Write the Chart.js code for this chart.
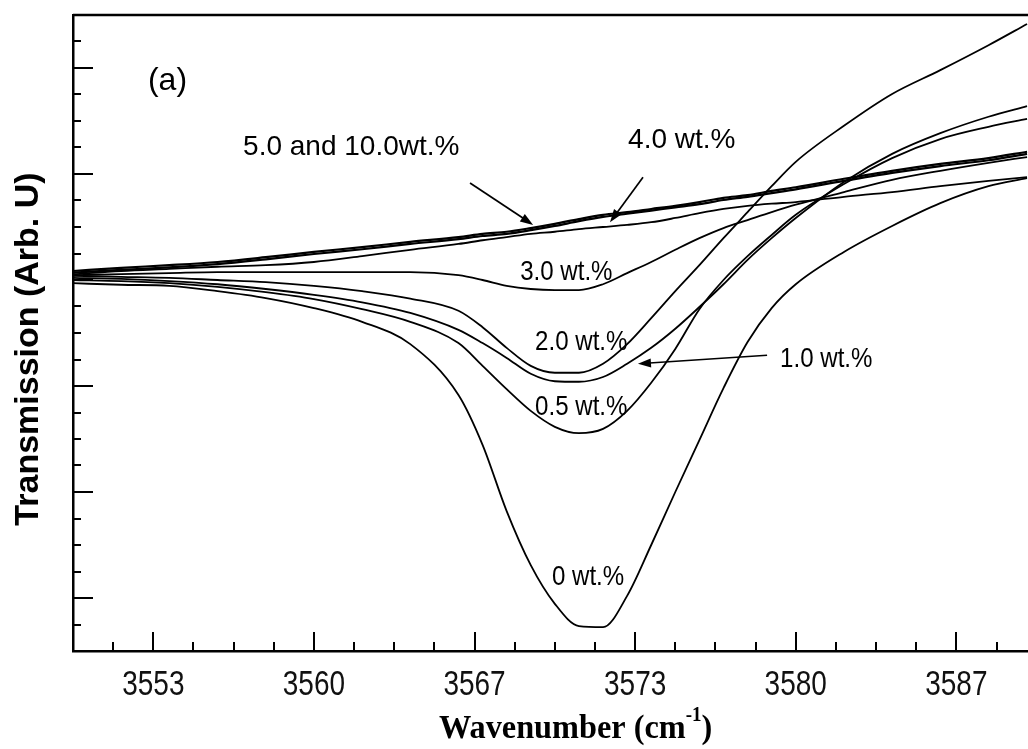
<!DOCTYPE html>
<html>
<head>
<meta charset="utf-8">
<title>FTIR transmission - OH band</title>
<script src="https://cdn.jsdelivr.net/npm/chart.js@4.4.1/dist/chart.umd.min.js"></script>
<style>
  html, body { margin: 0; padding: 0; background: #fff; }
  #ftirChart { display: block; }
</style>
</head>
<body>
<canvas id="ftirChart" width="1028" height="749"></canvas>
<script>
// Wavenumber grid (cm-1) shared by every spectrum
const wavenumbers = [3550, 3552, 3554, 3556, 3558, 3560, 3562, 3564, 3566, 3567, 3568, 3569, 3570,
    3571, 3572, 3573, 3574, 3575, 3576, 3577, 3578, 3579, 3580, 3582, 3584, 3586, 3588, 3589.6];

// Transmission traces (arb. units), one per loading
const trans0 = [0.694, 0.691, 0.689, 0.679, 0.666, 0.647, 0.621, 0.579, 0.483, 0.389, 0.264, 0.162, 0.089,
    0.047, 0.045, 0.104, 0.200, 0.300, 0.398, 0.496, 0.583, 0.647, 0.692, 0.753, 0.802, 0.845, 0.877, 0.892];
const trans05 = [0.700, 0.698, 0.694, 0.687, 0.677, 0.664, 0.645, 0.621, 0.581, 0.538, 0.494, 0.453, 0.423,
    0.411, 0.419, 0.453, 0.506, 0.570, 0.645, 0.700, 0.745, 0.785, 0.823, 0.881, 0.930, 0.966, 0.989, 1.004];
const trans1 = [0.704, 0.702, 0.698, 0.692, 0.683, 0.672, 0.658, 0.638, 0.606, 0.581, 0.553, 0.523, 0.509,
    0.508, 0.517, 0.542, 0.572, 0.608, 0.649, 0.692, 0.738, 0.779, 0.817, 0.885, 0.938, 0.977, 1.008, 1.028];
const trans2 = [0.708, 0.706, 0.704, 0.700, 0.696, 0.689, 0.679, 0.665, 0.642, 0.611, 0.572, 0.538, 0.525,
    0.525, 0.542, 0.579, 0.628, 0.679, 0.728, 0.779, 0.828, 0.877, 0.923, 0.991, 1.051, 1.096, 1.143, 1.183];
const trans3 = [0.709, 0.711, 0.713, 0.715, 0.715, 0.715, 0.715, 0.715, 0.709, 0.700, 0.689, 0.683, 0.681,
    0.681, 0.692, 0.713, 0.734, 0.757, 0.779, 0.798, 0.813, 0.828, 0.842, 0.866, 0.889, 0.906, 0.921, 0.932];
const trans4 = [0.711, 0.717, 0.721, 0.725, 0.728, 0.734, 0.745, 0.757, 0.768, 0.775, 0.781, 0.787, 0.791,
    0.796, 0.800, 0.804, 0.809, 0.817, 0.826, 0.834, 0.840, 0.844, 0.847, 0.857, 0.866, 0.877, 0.887, 0.894];
const trans5 = [0.717, 0.723, 0.728, 0.734, 0.743, 0.753, 0.762, 0.772, 0.781, 0.787, 0.791, 0.798, 0.806,
    0.815, 0.823, 0.828, 0.834, 0.840, 0.847, 0.855, 0.860, 0.868, 0.875, 0.891, 0.906, 0.919, 0.930, 0.942];
const trans10 = [0.714, 0.719, 0.724, 0.730, 0.739, 0.749, 0.758, 0.768, 0.777, 0.783, 0.787, 0.794, 0.802,
    0.811, 0.819, 0.825, 0.831, 0.837, 0.843, 0.851, 0.857, 0.864, 0.871, 0.887, 0.902, 0.915, 0.926, 0.938];

// Labelled major ticks on the wavenumber axis
const xTickLabels = ['3553', '3560', '3567', '3573', '3580', '3587'];

const X_MIN = 3550, X_MAX = 3589.64, X_STEP = 5 / 3;
const Y_MIN = 0, Y_MAX = 1.2, Y_STEP = 0.05;

const SANS = "'Liberation Sans', Arial, sans-serif";
const SERIF = "'Liberation Serif', 'Times New Roman', serif";

// Curve labels and arrows, placed in data coordinates
const curveLabels = [
    { text: '3.0 wt.%', x: 3568.56, y: 0.700 },
    { text: '2.0 wt.%', x: 3569.18, y: 0.568 },
    { text: '0.5 wt.%', x: 3569.18, y: 0.445 },
    { text: '1.0 wt.%', x: 3579.35, y: 0.536 },
    { text: '0 wt.%', x: 3569.88, y: 0.125 }
];
const bigLabels = [
    { text: '(a)', x: 3553.11, y: 1.058, size: 32 },
    { text: '5.0 and 10.0wt.%', x: 3557.06, y: 0.936, size: 28 },
    { text: '4.0 wt.%', x: 3573.04, y: 0.949, size: 28 }
];
const arrows = [
    { from: [3566.48, 0.883], to: [3569.10, 0.804] },
    { from: [3573.66, 0.894], to: [3572.29, 0.809] },
    { from: [3578.81, 0.558], to: [3573.45, 0.542] }
];

function buildTicks(min, max, step) {
    const out = [];
    for (let i = 0; min + i * step <= max + 1e-9; i++) {
        out.push(min + i * step);
    }
    return out;
}

const xTicks = buildTicks(X_MIN, X_MAX, X_STEP);
const yTicks = buildTicks(Y_MIN, Y_MAX, Y_STEP);

function xTickLabel(index) {
    return index % 4 === 2 ? xTickLabels[(index - 2) / 4] : '';
}

function makeSeries(label, values, width) {
    return {
        label: label,
        data: wavenumbers.map((w, i) => ({ x: w, y: values[i] })),
        borderColor: '#000',
        borderWidth: width || 1.8,
        pointRadius: 0,
        fill: false,
        cubicInterpolationMode: 'monotone'
    };
}

// narrow text: the tall condensed lettering is drawn squeezed sideways
function fillNarrow(ctx, text, x, y, squeeze) {
    ctx.save();
    ctx.translate(x, y);
    ctx.scale(squeeze, 1);
    ctx.fillText(text, 0, 0);
    ctx.restore();
}

// Tick marks point into the plot, long on majors; tick labels under the axis
const axisPlugin = {
    id: 'innerTicks',
    afterDraw(chart) {
        const { ctx, chartArea, scales } = chart;
        ctx.save();
        ctx.strokeStyle = '#000';
        ctx.lineWidth = 2;
        xTicks.forEach((v, i) => {
            if (i === 0) return;
            const px = Math.round(scales.x.getPixelForValue(v));
            const len = i % 4 === 2 ? 19 : 9;
            ctx.beginPath();
            ctx.moveTo(px, chartArea.bottom);
            ctx.lineTo(px, chartArea.bottom - len);
            ctx.stroke();
        });
        yTicks.forEach((v, i) => {
            if (i === 0 || i === yTicks.length - 1) return;
            const py = Math.round(scales.y.getPixelForValue(v));
            const len = i % 4 === 2 ? 20 : 8;
            ctx.beginPath();
            ctx.moveTo(chartArea.left, py);
            ctx.lineTo(chartArea.left + len, py);
            ctx.stroke();
        });
        // top frame line
        ctx.lineWidth = 2.5;
        ctx.beginPath();
        ctx.moveTo(chartArea.left, chartArea.top);
        ctx.lineTo(chartArea.right, chartArea.top);
        ctx.stroke();

        // wavenumber tick labels from the scale's own ticks
        ctx.fillStyle = '#111';
        ctx.font = '35px ' + SANS;
        ctx.textAlign = 'center';
        ctx.textBaseline = 'alphabetic';
        scales.x.ticks.forEach((t, i) => {
            const label = t.label || xTickLabel(i);
            if (!label) return;
            fillNarrow(ctx, label, scales.x.getPixelForValue(t.value), chartArea.bottom + 44, 0.8);
        });
        ctx.restore();
    }
};

function drawArrow(ctx, x1, y1, x2, y2) {
    const ang = Math.atan2(y2 - y1, x2 - x1);
    const head = 13, half = 4.5;
    ctx.beginPath();
    ctx.moveTo(x1, y1);
    ctx.lineTo(x2 - Math.cos(ang) * head * 0.6, y2 - Math.sin(ang) * head * 0.6);
    ctx.stroke();
    ctx.beginPath();
    ctx.moveTo(x2, y2);
    ctx.lineTo(x2 - Math.cos(ang) * head + Math.sin(ang) * half, y2 - Math.sin(ang) * head - Math.cos(ang) * half);
    ctx.lineTo(x2 - Math.cos(ang) * head - Math.sin(ang) * half, y2 - Math.sin(ang) * head + Math.cos(ang) * half);
    ctx.closePath();
    ctx.fill();
}

// Curve labels, arrows and axis titles
const annotationPlugin = {
    id: 'spectraAnnotations',
    afterDraw(chart) {
        const { ctx, chartArea, scales } = chart;
        const px = v => scales.x.getPixelForValue(v);
        const py = v => scales.y.getPixelForValue(v);
        ctx.save();
        ctx.fillStyle = '#000';
        ctx.strokeStyle = '#000';
        ctx.textAlign = 'left';
        ctx.textBaseline = 'alphabetic';

        ctx.font = '28px ' + SANS;
        curveLabels.forEach(l => fillNarrow(ctx, l.text, px(l.x), py(l.y), 0.86));

        bigLabels.forEach(l => {
            ctx.font = l.size + 'px ' + SANS;
            ctx.fillText(l.text, px(l.x), py(l.y));
        });

        ctx.lineWidth = 1.7;
        arrows.forEach(a => drawArrow(ctx, px(a.from[0]), py(a.from[1]), px(a.to[0]), py(a.to[1])));

        // y axis title
        ctx.save();
        ctx.translate(38, (chartArea.top + chartArea.bottom) / 2 + 16);
        ctx.rotate(-Math.PI / 2);
        ctx.textAlign = 'center';
        ctx.font = 'bold 34px ' + SANS;
        ctx.fillText('Transmission (Arb. U)', 0, 0);
        ctx.restore();

        // x axis title with superscript
        ctx.save();
        ctx.translate(439, 738);
        ctx.scale(0.95, 1);
        let x = 0;
        ctx.font = 'bold 34px ' + SERIF;
        ctx.fillText('Wavenumber (cm', x, 0);
        x += ctx.measureText('Wavenumber (cm').width;
        ctx.font = 'bold 20px ' + SERIF;
        ctx.fillText('-1', x, -17);
        x += ctx.measureText('-1').width;
        ctx.font = 'bold 34px ' + SERIF;
        ctx.fillText(')', x, 0);
        ctx.restore();

        ctx.restore();
    }
};

function initializeSpectraChart() {
    const canvas = document.getElementById('ftirChart');
    if (!canvas) {
        console.error('Chart canvas not found');
        return;
    }

    return new Chart(canvas.getContext('2d'), {
        type: 'line',
        data: {
            datasets: [
                makeSeries('0 wt.%', trans0),
                makeSeries('0.5 wt.%', trans05),
                makeSeries('1.0 wt.%', trans1),
                makeSeries('2.0 wt.%', trans2),
                makeSeries('3.0 wt.%', trans3),
                makeSeries('4.0 wt.%', trans4),
                makeSeries('5.0 wt.%', trans5, 2.2),
                makeSeries('10.0 wt.%', trans10, 2.2)
            ]
        },
        options: {
            responsive: false,
            animation: false,
            devicePixelRatio: 1,
            layout: { padding: { left: 73, top: 15, right: 0, bottom: 0 } },
            plugins: {
                legend: { display: false },
                tooltip: { enabled: false }
            },
            scales: {
                x: {
                    type: 'linear',
                    min: X_MIN,
                    max: X_MAX,
                    afterFit: scale => { scale.height = 98; },
                    afterBuildTicks: scale => {
                        scale.ticks = xTicks.map(v => ({ value: v }));
                    },
                    ticks: {
                        display: false,
                        autoSkip: false,
                        maxRotation: 0,
                        callback: function(value, index) {
                            return xTickLabel(index);
                        }
                    },
                    grid: { drawOnChartArea: false, drawTicks: false },
                    border: { display: true, color: '#000', width: 2.5 }
                },
                y: {
                    min: Y_MIN,
                    max: Y_MAX,
                    afterFit: scale => { scale.width = 0; },
                    afterBuildTicks: scale => {
                        scale.ticks = yTicks.map(v => ({ value: v }));
                    },
                    ticks: { display: false },
                    grid: { drawOnChartArea: false, drawTicks: false },
                    border: { display: true, color: '#000', width: 2.5 }
                }
            }
        },
        plugins: [axisPlugin, annotationPlugin]
    });
}

initializeSpectraChart();
</script>
</body>
</html>
